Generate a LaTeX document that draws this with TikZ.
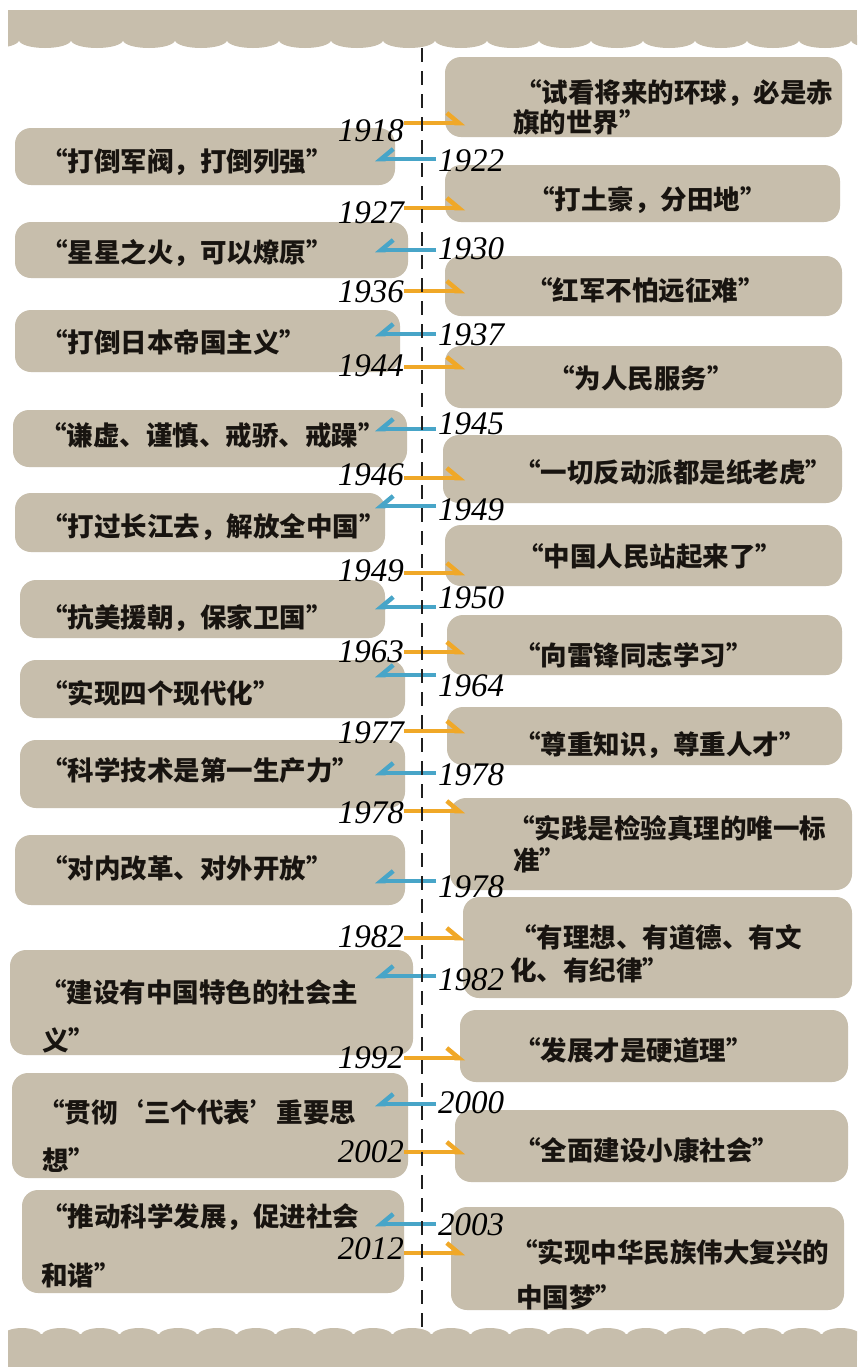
\documentclass[tikz,border=0pt]{standalone}
\usepackage{fontspec}
\newfontfamily\cjk{Noto Sans CJK SC}
\newfontfamily\yrf{Liberation Serif}
\usetikzlibrary{arrows.meta}
\definecolor{boxc}{RGB}{199,190,172}
\definecolor{orng}{RGB}{240,168,40}
\definecolor{blu}{RGB}{72,165,200}
\definecolor{ink}{RGB}{24,20,16}
\newcommand\mkbox[5]{\node[bx,minimum width={(#4-#2)*1pt},minimum height={(#5-#3)*1pt}] (#1) at ({(#2+#4)/2},{(#3+#5)/2}) {};}
\newcommand\oyear[4]{\node[yr,anchor=east] (#1) at (404,#3) {#4};
  \coordinate (#1s) at (404,#2); \coordinate (#1e) at (465,#2);
  \draw[oarr] (#1s) -- (#1e);}
\newcommand\byear[4]{\node[yr,anchor=west] (#1) at (438,#3) {#4};
  \coordinate (#1s) at (436,#2); \coordinate (#1e) at (375,#2);
  \draw[barr] (#1s) -- (#1e);}
\begin{document}
\begin{tikzpicture}[x=1pt,y=-1pt,
  bx/.style={fill=boxc,rounded corners=16pt,inner sep=0pt,draw=none},
  qt/.style={font=\cjk\bfseries\fontsize{26.5}{26.5}\selectfont,text=ink,anchor=west,inner sep=0pt},
  yr/.style={font=\yrf\itshape\fontsize{33}{33}\selectfont,text=black,inner sep=0pt},
  oarr/.style={draw=orng,line width=4.5pt,-{Straight Barb[harpoon,length=12pt,width=20pt]}},
  barr/.style={draw=blu,line width=4.5pt,-{Straight Barb[harpoon,swap,length=12pt,width=20pt]}},
  axis/.style={draw=black!88,line width=2pt,dash pattern=on 14pt off 9pt}]
\useasboundingbox (0,0) rectangle (857,1371);
\fill[white] (0,0) rectangle (857,1371);
% scalloped bands
\begin{scope}
\clip (8,0) rectangle (857,1371);
\fill[boxc] (8,10) rectangle (857,41);
\foreach \i in {-1,...,16} \fill[boxc] ({45+52*\i},40) ellipse [x radius=26, y radius=8];
\fill[boxc] (8,1334) rectangle (857,1367);
\foreach \i in {0,...,22} \fill[boxc] ({22+39*\i},1336) ellipse [x radius=19.5, y radius=8];
\end{scope}
% right boxes
\mkbox{R1}{445}{57}{842}{137}
\mkbox{R2}{445}{165}{840}{222}
\mkbox{R3}{445}{256}{842}{316}
\mkbox{R4}{445}{346}{842}{408}
\mkbox{R5}{443}{435}{842}{503}
\mkbox{R6}{445}{525}{842}{586}
\mkbox{R7}{447}{615}{842}{675}
\mkbox{R8}{447}{707}{842}{765}
\mkbox{R9}{450}{798}{852}{890}
\mkbox{R10}{463}{897}{852}{998}
\mkbox{R11}{460}{1010}{848}{1082}
\mkbox{R12}{455}{1110}{848}{1182}
\mkbox{R13}{451}{1207}{844}{1310}
% left boxes
\mkbox{L1}{15}{128}{395}{185}
\mkbox{L2}{15}{222}{408}{278}
\mkbox{L3}{15}{310}{400}{372}
\mkbox{L4}{13}{410}{407}{467}
\mkbox{L5}{15}{493}{385}{552}
\mkbox{L6}{20}{580}{385}{638}
\mkbox{L7}{20}{660}{405}{718}
\mkbox{L8}{20}{740}{405}{808}
\mkbox{L9}{15}{835}{405}{905}
\mkbox{L10}{10}{950}{413}{1055}
\mkbox{L11}{12}{1073}{408}{1178}
\mkbox{L12}{22}{1190}{404}{1293}
% right texts
\node[qt] (r1a) at (515,93) {“试看将来的环球，必是赤};
\node[qt] (r1b) at (513,122) {旗的世界”};
\node[qt] (r2) at (528,200) {“打土豪，分田地”};
\node[qt] (r3) at (526,290) {“红军不怕远征难”};
\node[qt] (r4) at (548,378) {“为人民服务”};
\node[qt] (r5) at (514,472) {“一切反动派都是纸老虎”};
\node[qt] (r6) at (517,556) {“中国人民站起来了”};
\node[qt] (r7) at (514,655) {“向雷锋同志学习”};
\node[qt] (r8) at (514,745) {“尊重知识，尊重人才”};
\node[qt] (r9a) at (508,828) {“实践是检验真理的唯一标};
\node[qt] (r9b) at (513,860) {准”};
\node[qt] (r10a) at (510,937) {“有理想、有道德、有文};
\node[qt] (r10b) at (510,970) {化、有纪律”};
\node[qt] (r11) at (514,1050) {“发展才是硬道理”};
\node[qt] (r12) at (514,1150) {“全面建设小康社会”};
\node[qt] (r13a) at (511,1252) {“实现中华民族伟大复兴的};
\node[qt] (r13b) at (516,1297) {中国梦”};
% left texts
\node[qt] (l1) at (41,162) {“打倒军阀，打倒列强”};
\node[qt] (l2) at (41,253) {“星星之火，可以燎原”};
\node[qt] (l3) at (41,342) {“打倒日本帝国主义”};
\node[qt] (l4) at (40,435) {“谦虚、谨慎、戒骄、戒躁”};
\node[qt] (l5) at (41,527) {“打过长江去，解放全中国”};
\node[qt] (l6) at (41,618) {“抗美援朝，保家卫国”};
\node[qt] (l7) at (41,693) {“实现四个现代化”};
\node[qt] (l8) at (41,770) {“科学技术是第一生产力”};
\node[qt] (l9) at (41,868) {“对内改革、对外开放”};
\node[qt] (l10a) at (40,992) {“建设有中国特色的社会主};
\node[qt] (l10b) at (42,1040) {义”};
\node[qt] (l11a) at (38,1112) {“贯彻‘三个代表’重要思};
\node[qt] (l11b) at (42,1160) {想”};
\node[qt] (l12a) at (41,1217) {“推动科学发展，促进社会};
\node[qt] (l12b) at (41,1275) {和谐”};
% years and arrows
\oyear{o1918}{123}{131}{1918}
\byear{b1922}{159}{161}{1922}
\oyear{o1927}{208}{213}{1927}
\byear{b1930}{250}{249}{1930}
\oyear{o1936}{291}{292}{1936}
\byear{b1937}{334}{335}{1937}
\oyear{o1944}{367}{366}{1944}
\byear{b1945}{429}{424}{1945}
\oyear{o1946}{478}{475}{1946}
\byear{b1949}{506}{510}{1949}
\oyear{o1949}{573}{571}{1949}
\byear{b1950}{607}{598}{1950}
\oyear{o1963}{652}{652}{1963}
\byear{b1964}{675}{686}{1964}
\oyear{o1977}{731}{733}{1977}
\byear{b1978a}{773}{775}{1978}
\oyear{o1978}{811}{813}{1978}
\byear{b1978b}{881}{887}{1978}
\oyear{o1982}{938}{937}{1982}
\byear{b1982}{976}{980}{1982}
\oyear{o1992}{1058}{1058}{1992}
\byear{b2000}{1104}{1103}{2000}
\oyear{o2002}{1152}{1152}{2002}
\byear{b2003}{1224}{1225}{2003}
\oyear{o2012}{1253}{1249}{2012}
% dashed axis
\coordinate (axtop) at (422,48);
\coordinate (axbot) at (422,1327);
\draw[axis] (axtop) -- (axbot);
\end{tikzpicture}
\end{document}
